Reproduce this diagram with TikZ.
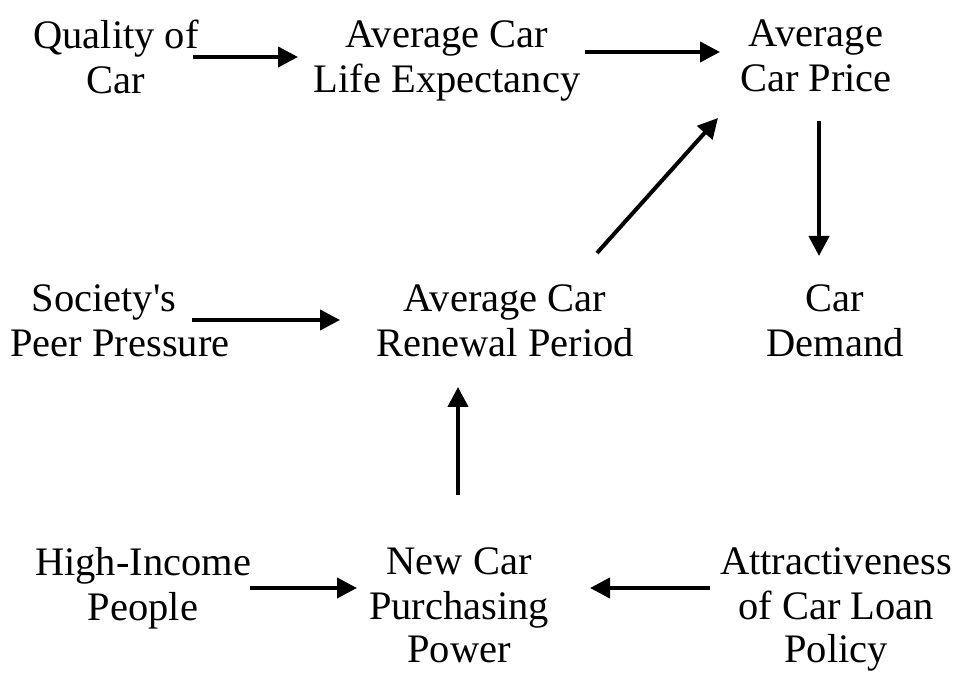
\documentclass[tikz,border=0pt]{standalone}
\usepackage{fontspec}
\setmainfont{Liberation Serif}
\usetikzlibrary{arrows.meta,calc}
\begin{document}
\begin{tikzpicture}[x=1pt,y=1pt,
  lbl/.style={align=center,inner sep=0pt,anchor=north,font=\fontsize{40.5}{45}\selectfont},
  arr/.style={line width=4pt,-{Triangle[length=20pt,width=20pt]}}]
\useasboundingbox (0,0) rectangle (958,679);
% y = 679 - py ; nodes anchored at their top
\node[lbl] (q) at (116,659) {Quality of\\Car};
\node[lbl] (l) at (447,659) {Average Car\\Life Expectancy};
\node[lbl] (p) at (816,659) {Average\\Car Price};
\node[lbl] (s) at (120,395) {Society\textquotesingle s\hspace*{32pt}\\Peer Pressure};
\node[lbl] (r) at (505,395) {Average Car\\Renewal Period};
\node[lbl] (d) at (835,395) {Car\\Demand};
\node[lbl] (h) at (143,132) {High-Income\\People};
\node[lbl] (n) at (459,132) {New Car\\Purchasing\\[-2pt]Power};
\node[lbl] (a) at (836,132) {Attractiveness\\of Car Loan\\[-2pt]Policy};
% arrows
\draw[arr] ($(q.north)+(77,-37)$) -- ($(l.north)+(-149,-37)$);
\draw[arr] ($(l.north)+(138,-32)$) -- ($(p.north)+(-96,-32)$);
\draw[arr] ($(p.north)+(3,-101)$) -- ($(d.north)+(-16,28)$);
\draw[arr] ($(r.north)+(92,31)$) -- ($(p.north)+(-98,-98)$);
\draw[arr] ($(s.north)+(72,-36)$) -- ($(r.north)+(-165,-36)$);
\draw[arr] ($(n.north)+(-1,52)$) -- ($(r.north)+(-47,-103)$);
\draw[arr] ($(h.north)+(107,-41)$) -- ($(n.north)+(-102,-41)$);
\draw[arr] ($(a.north)+(-126,-41)$) -- ($(n.north)+(131,-41)$);
\end{tikzpicture}
\end{document}
